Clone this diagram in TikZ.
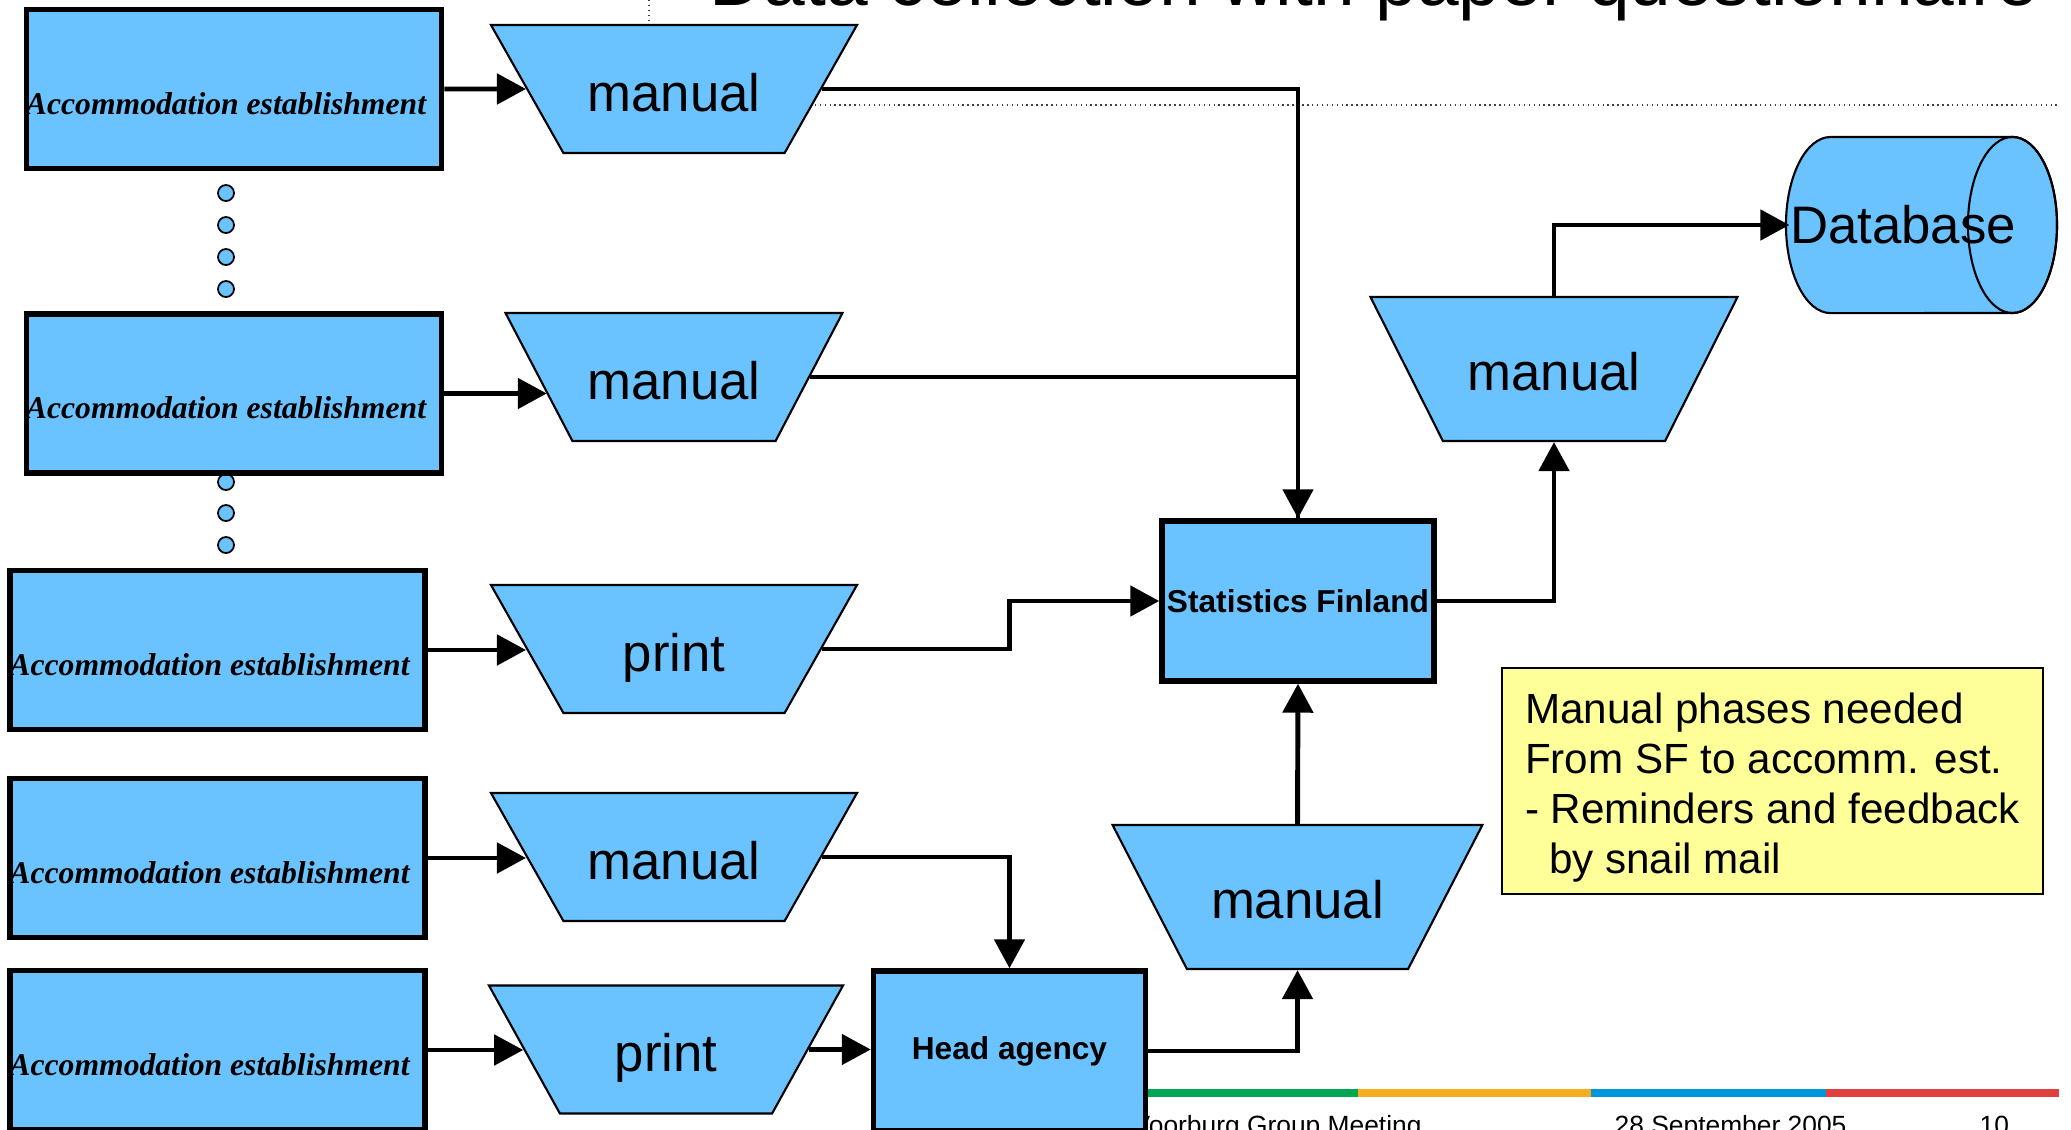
\documentclass[tikz,border=0pt]{standalone}
\usepackage{fontspec}
\setmainfont{Liberation Sans}
\newfontfamily\timesfont{Liberation Serif}
\usetikzlibrary{shapes.geometric,arrows.meta}
\definecolor{boxblue}{RGB}{106,195,255}
\definecolor{noteyellow}{RGB}{255,255,153}
\definecolor{bargreen}{RGB}{0,166,81}
\definecolor{barorange}{RGB}{245,174,31}
\definecolor{barblue}{RGB}{0,150,220}
\definecolor{barred}{RGB}{224,64,64}

\begin{document}
\begin{tikzpicture}[x=0.01cm, y=0.01cm]
\tikzstyle{every node}+=[inner sep=0pt]
\tikzstyle{estab}=[draw=black, line width=1.5pt, fill=boxblue, minimum width=4.15cm, minimum height=1.59cm, font=\timesfont\bfseries\itshape\fontsize{9}{11}\selectfont, text height=0.5cm, text depth=0pt, execute at begin node=\hspace*{-0.16cm}]
\tikzstyle{office}=[draw=black, line width=1.5pt, fill=boxblue, minimum width=2.72cm, minimum height=1.6cm, font=\bfseries\fontsize{9}{11}\selectfont]
\tikzstyle{phase}=[draw=black, line width=0.6pt, fill=boxblue, trapezium, shape border rotate=180, trapezium angle=60.5, text width=2.21cm, align=center, text height=0.86cm, text depth=0.42cm, font=\fontsize{15}{18}\selectfont]
\tikzstyle{bigphase}=[phase, trapezium angle=62.7, text height=0.93cm, text depth=0.51cm]
\tikzstyle{flow}=[line width=1.4pt, -{Triangle[length=0.29cm, width=0.3cm]}]
\tikzstyle{dot}=[draw=black, line width=0.5pt, fill=boxblue]
\tikzstyle{footer}=[anchor=base west, font=\fontsize{7.5}{9}\selectfont]
\useasboundingbox (0,0) rectangle (2071,-1130);
\clip (0,0) rectangle (2071,-1130);
\node [anchor=base west, font=\fontsize{21.3}{25}\selectfont] (title) at (709,-5) {Data collection with paper questionnaire};
\draw [black!75, densely dotted, line width=0.4pt] (649,0) -- (649,-105) -- (2057,-105);
\fill [bargreen] (1124,-1089) rectangle (1358,-1097);
\fill [barorange] (1358,-1089) rectangle (1591,-1097);
\fill [barblue] (1591,-1089) rectangle (1826,-1097);
\fill [barred] (1826,-1089) rectangle (2059,-1097);
\node [footer] (meeting) at (1132,-1134) {Voorburg Group Meeting};
\node [footer] (date) at (1614,-1134) {28 September 2005};
\node [footer] (page) at (1979,-1134) {10};
\foreach \y in {193,225,257,289,482,513,545}
  \draw [dot] (226,-\y) circle (0.08cm);
\node [estab] (est1) at (234,-89) {Accommodation establishment};
\node [estab] (est2) at (234,-393.5) {Accommodation establishment};
\node [estab] (est3) at (217.5,-650) {Accommodation establishment};
\node [estab] (est4) at (217.5,-858) {Accommodation establishment};
\node [estab] (est5) at (217.5,-1050) {Accommodation establishment};
\node [phase] (man1) at (674,-89) {manual};
\node [phase, text width=2.03cm, trapezium angle=62.4] (man2) at (674,-377) {manual};
\node [phase] (print1) at (674,-649) {print};
\node [phase] (man3) at (674,-857) {manual};
\node [phase, text width=2.12cm, trapezium angle=61] (print2) at (666,-1049.5) {print};
\node [bigphase] (man4) at (1297.5,-897) {manual};
\node [bigphase, text width=2.22cm, trapezium angle=63.3] (man5) at (1554,-369) {manual};
\node [office] (stat) at (1298,-601) {Statistics Finland};
\node [office] (head) at (1009.5,-1051) {Head agency};
\draw [draw=black, line width=0.6pt, fill=boxblue] (2012.5,-137) -- (1830.5,-137) arc [start angle=90, end angle=270, x radius=0.445cm, y radius=0.88cm] -- (2012.5,-313) arc [start angle=-90, end angle=90, x radius=0.445cm, y radius=0.88cm] -- cycle;
\draw [draw=black, line width=0.6pt] (2012.5,-225) ellipse [x radius=0.445cm, y radius=0.88cm];
\node [font=\fontsize{15}{18}\selectfont] (db) at (1903,-225) {Database};
\node [draw=black, line width=0.5pt, fill=noteyellow, minimum width=5.41cm, minimum height=2.26cm, align=left, font=\fontsize{12}{14.2}\selectfont] (note) at (1772.5,-781) {\rule{0pt}{0.43cm}Manual phases needed\\From SF to accomm. est.\\- Reminders and feedback\\\hspace*{0.24cm}by snail mail};
\draw [flow] (est1.east) -- (man1.west);
\draw [flow] (est2.east) -- ([xshift=0.09cm]est2.east -| man2.west);
\draw [flow] (est3.east) -- (est3.east -| print1.west);
\draw [flow] (est4.east) -- (est4.east -| man3.west);
\draw [flow] (est5.east) -- (est5.east -| print2.west);
\draw [line width=1pt] (man1.east) -| (stat.north);
\draw [flow] (man2.east) -| (stat.north);
\draw [flow] (print1.east) -- (print1.east -| head.north) |- (stat.west);
\draw [flow] (man3.east) -| (head.north);
\draw [flow] (print2.east) -- (print2.east -| head.west);
\draw [flow] (head.east) -| (man4.south);
\draw [flow] (man4.north) -- (stat.south);
\draw [flow] (stat.east) -| (man5.south);
\draw [flow] (man5.north) |- (db.west);
\end{tikzpicture}
\end{document}
